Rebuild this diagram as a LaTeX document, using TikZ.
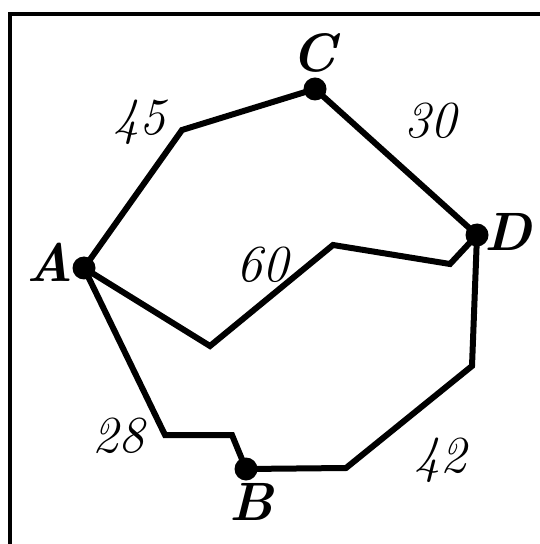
\documentclass[tikz,border=0pt]{standalone}
\usepackage{fontspec}
\begin{document}
\begin{tikzpicture}[x=0.5pt, y=-0.5pt,
    dot/.style={circle, fill=black, inner sep=0pt, minimum size=11.5pt},
    edge/.style={line width=3pt, line join=miter},
    weight/.style={font=\fontsize{26}{30}\selectfont\itshape\addfontfeature{FakeBold=0.8}},
    vname/.style={font=\fontsize{27}{31}\selectfont\bfseries\itshape}]
    \useasboundingbox (0,0) rectangle (539,544);

    % Frame (only top and left edges visible)
    \draw[line width=2pt] (9.5,548) -- (9.5,14.5) -- (545,14.5);

    % Vertices
    \node[dot] (A) at (84,268) {};
    \node[dot] (B) at (246,469) {};
    \node[dot] (C) at (315,89) {};
    \node[dot] (D) at (477,235) {};

    \node[vname] (lA) at (50,262) {A};
    \node[vname] (lB) at (252,502) {B};
    \node[vname] (lC) at (314,53) {C};
    \node[vname] (lD) at (508,232) {D};

    % Roads
    \draw[edge] (A.center) -- (182,130) -- (C.center);
    \draw[edge] (C.center) -- (D.center);
    \draw[edge] (A.center) -- (210,346) -- (333,245) -- (450,264) -- (D.center);
    \draw[edge] (A.center) -- (165,435) -- (232,435) -- (B.center);
    \draw[edge] (B.center) -- (346,468) -- (472,366) -- (D.center);

    % Distances
    \node[weight] (w45) at (139,122) {45};
    \node[weight] (w30) at (430,121) {30};
    \node[weight] (w60) at (262,265) {60};
    \node[weight] (w28) at (118,436) {28};
    \node[weight] (w42) at (440,460) {42};
\end{tikzpicture}
\end{document}
